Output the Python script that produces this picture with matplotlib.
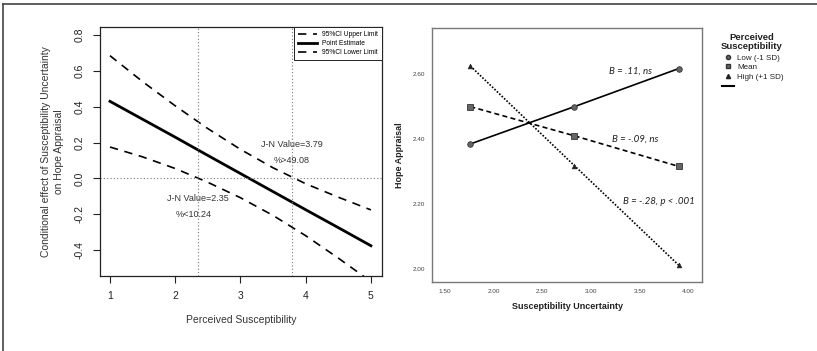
import matplotlib
matplotlib.use("Agg")
import matplotlib.pyplot as plt
from matplotlib.lines import Line2D
import numpy as np

# ---------------- data ----------------
# Left panel: Johnson-Neyman plot
ps_x = [1, 1.5, 2, 2.5, 3, 3.5, 4, 4.5, 5]
point_est = [0.43, 0.33, 0.23, 0.128, 0.027, -0.074, -0.175, -0.275, -0.376]
ci_upper = [0.685, 0.54, 0.405, 0.278, 0.162, 0.059, -0.03, -0.105, -0.176]
ci_lower = [0.175, 0.12, 0.055, -0.022, -0.108, -0.207, -0.32, -0.445, -0.576]
jn_values = [2.35, 3.79]
left_xticks = [1, 2, 3, 4, 5]
left_yticks = [-0.4, -0.2, 0.0, 0.2, 0.4, 0.6, 0.8]

# Right panel: simple slopes
su_x = [1.76, 2.83, 3.90]
hope_low = [2.385, 2.50, 2.617]
hope_mean = [2.50, 2.41, 2.316]
hope_high = [2.625, 2.318, 2.012]
right_xticks = [1.50, 2.00, 2.50, 3.00, 3.50, 4.00]
right_yticks = [2.00, 2.20, 2.40, 2.60]

W, H = 817, 351
fig = plt.figure(figsize=(W / 100, H / 100), dpi=100)
plt.rcParams['font.family'] = ['Liberation Sans', 'DejaVu Sans']

def rect(x0, y0, x1, y1):
    return [x0 / W, 1 - y1 / H, (x1 - x0) / W, (y1 - y0) / H]

# ---------------- left panel ----------------
ax = fig.add_axes(rect(100, 27, 382, 276))
ax.plot(ps_x, ci_upper, color='black', lw=1.2, ls=(0, (5, 4)), label='95%CI Upper Limit')
ax.plot(ps_x, point_est, color='black', lw=2.0, ls='-', label='Point Estimate')
ax.plot(ps_x, ci_lower, color='black', lw=1.2, ls=(0, (5, 4)), label='95%CI Lower Limit')
for v in jn_values:
    ax.axvline(v, color='#777777', lw=0.8, ls=(0, (1, 2)))
ax.axhline(0, color='#777777', lw=0.8, ls=(0, (1, 2)))
ax.set_xlim(0.847, 5.17)
ax.set_ylim(-0.545, 0.845)
ax.set_xticks(left_xticks)
ax.set_yticks(left_yticks)
ax.set_yticklabels([f"{t:.1f}" for t in left_yticks], rotation=90, va='center')
ax.tick_params(direction='out', length=5, width=0.8, labelsize=7.5, colors='#222222', pad=6)
for s in ax.spines.values():
    s.set_linewidth(0.9)
    s.set_color('#222222')
ax.set_xlabel('Perceived Susceptibility', fontsize=7.5, color='#333333', labelpad=10)
ax.set_ylabel('Conditional effect of Susceptibility Uncertainty\non Hope Appraisal',
              fontsize=7.5, color='#333333', labelpad=8, linespacing=1.3)
ax.text(3.79, 0.19, 'J-N Value=3.79', fontsize=6.5, ha='center', va='center', color='#333333')
ax.text(3.79, 0.097, '%>49.08', fontsize=6.5, ha='center', va='center', color='#333333')
ax.text(2.35, -0.11, 'J-N Value=2.35', fontsize=6.5, ha='center', va='center', color='#333333')
ax.text(2.28, -0.20, '%<10.24', fontsize=6.5, ha='center', va='center', color='#333333')
leg = ax.legend(loc='upper right', fontsize=4.8, handlelength=2.8, borderpad=0.6,
                labelspacing=0.3, fancybox=False, edgecolor='#222222', framealpha=1,
                borderaxespad=0)
leg.get_frame().set_linewidth(0.7)

# ---------------- right panel ----------------
ax2 = fig.add_axes(rect(432, 28, 702, 282))
ax2.plot(su_x, hope_low, color='black', lw=1.2, ls='-', marker='o', ms=4,
         mfc='#666666', mec='#333333', mew=0.6, zorder=3)
ax2.plot(su_x, hope_mean, color='black', lw=1.2, ls=(0, (3, 2)), marker='s', ms=4,
         mfc='#666666', mec='#333333', mew=0.6, zorder=3)
ax2.plot(su_x, hope_high, color='black', lw=1.2, ls=(0, (1, 1)), marker='^', ms=3.5,
         mfc='#222222', mec='#222222', mew=0.4, zorder=3)
ax2.set_xlim(1.366, 4.14)
ax2.set_ylim(1.96, 2.742)
ax2.set_xticks(right_xticks)
ax2.set_xticklabels([f"{t:.2f}" for t in right_xticks])
ax2.set_yticks(right_yticks)
ax2.set_yticklabels([f"{t:.2f}" for t in right_yticks])
ax2.tick_params(length=0, labelsize=4.6, colors='#444444', pad=5)
for s in ax2.spines.values():
    s.set_linewidth(1.0)
    s.set_color('#777777')
ax2.set_xlabel('Susceptibility Uncertainty', fontsize=6.5, fontweight='bold',
               color='#222222', labelpad=6)
ax2.set_ylabel('Hope Appraisal', fontsize=6.5, fontweight='bold', color='#222222', labelpad=6)
ital = dict(family=['Lato', 'Open Sans', 'DejaVu Sans'], style='italic', fontsize=7,
            ha='center', va='center', color='#222222')
ax2.text(3.41, 2.609, 'B = .11, ns', **ital)
ax2.text(3.45, 2.40, 'B = -.09, ns', **ital)
ax2.text(3.70, 2.207, 'B = -.28, p < .001', **ital)

handles = [
    Line2D([], [], ls='none', marker='o', ms=3, mfc='#666666', mec='#333333'),
    Line2D([], [], ls='none', marker='s', ms=3, mfc='#666666', mec='#333333'),
    Line2D([], [], ls='none', marker='^', ms=3, mfc='#222222', mec='#222222'),
    Line2D([], [], color='black', lw=1.5),
]
labels = ['Low (-1 SD)', 'Mean', 'High (+1 SD)', '']
leg2 = fig.legend(handles, labels, loc='upper left', bbox_to_anchor=(722 / W, 1 - 54 / H),
                  fontsize=5.8, frameon=False, handlelength=1.5, handletextpad=0.4,
                  labelspacing=0.25, borderpad=0, borderaxespad=0)
for t in leg2.get_texts():
    t.set_color('#222222')
fig.text(752 / W, 1 - 42 / H, 'Perceived\nSusceptibility', fontsize=6.8, fontweight='bold',
         ha='center', va='center', color='#222222', linespacing=1.0)

# figure border (top and left)
fig.add_artist(Line2D([3 / W, 1], [1 - 4 / H, 1 - 4 / H], color='#444444', lw=1.2,
                      transform=fig.transFigure))
fig.add_artist(Line2D([3 / W, 3 / W], [0, 1 - 4 / H], color='#444444', lw=1.2,
                      transform=fig.transFigure))

fig.savefig('out.png', dpi=100)
